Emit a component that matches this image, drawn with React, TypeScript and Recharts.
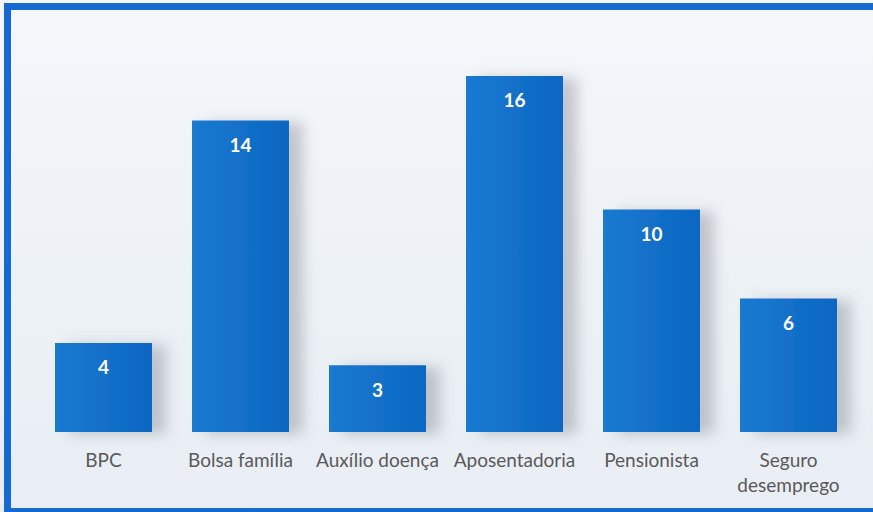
import { BarChart, Bar, XAxis, YAxis, LabelList } from 'recharts';

const categories = ['BPC', 'Bolsa família', 'Auxílio doença', 'Aposentadoria', 'Pensionista', 'Seguro desemprego'];
const counts = [4, 14, 3, 16, 10, 6];

const data = categories.map((name, i) => ({ name, value: counts[i] }));

const FONT = 'Lato, "Open Sans", sans-serif';

// wrap long category names the way Excel does
const CategoryTick = ({ x, y, payload }: { x?: number; y?: number; payload?: { value: string } }) => {
  const text = payload?.value ?? '';
  const lines = text.length > 15 ? text.split(' ') : [text];
  return (
    <text x={x} y={y} textAnchor="middle" fill="#595959" fontSize={19} fontFamily={FONT}>
      {lines.map((line, i) => (
        <tspan key={i} x={x} dy={i === 0 ? 27 : 25}>
          {line}
        </tspan>
      ))}
    </text>
  );
};

export default function App() {
  return (
    <>
      <style>{'body { margin: 0; }'}</style>
      <div
        style={{
          position: 'relative',
          width: 873,
          height: 512,
          overflow: 'hidden',
          background: 'linear-gradient(180deg, #f4f7fa 0%, #ecf1f6 60%, #e9eef4 100%)',
        }}
      >
        <div
          style={{
            position: 'absolute',
            left: 4,
            top: 3,
            width: 880,
            height: 498,
            borderTop: '7px solid #1769d2',
            borderLeft: '7px solid #1769d2',
            borderBottom: '6px solid #1769d2',
          }}
        />
        <div style={{ position: 'absolute', left: 0, top: 0 }}>
          <BarChart
            width={873}
            height={512}
            data={data}
            margin={{ top: 31.5, right: 16, bottom: 50, left: 35 }}
            barCategoryGap={20}
          >
            <defs>
              <linearGradient id="barFill" x1="0" y1="0" x2="1" y2="0">
                <stop offset="0%" stopColor="#1a7ad0" />
                <stop offset="100%" stopColor="#0b66c2" />
              </linearGradient>
              <filter id="barShadow" x="-20%" y="-20%" width="160%" height="140%">
                <feDropShadow dx={14} dy={2} stdDeviation={7} floodColor="#6b7079" floodOpacity={0.35} />
              </filter>
            </defs>
            <XAxis
              dataKey="name"
              axisLine={false}
              tickLine={false}
              interval={0}
              height={30}
              tick={<CategoryTick />}
            />
            <YAxis hide domain={[0, 18]} />
            <Bar
              dataKey="value"
              fill="url(#barFill)"
              filter="url(#barShadow)"
              isAnimationActive={false}
            >
              <LabelList
                dataKey="value"
                position="insideTop"
                offset={18}
                fill="#ffffff"
                fontSize={19}
                fontWeight={700}
                fontFamily={FONT}
              />
            </Bar>
          </BarChart>
        </div>
      </div>
    </>
  );
}
